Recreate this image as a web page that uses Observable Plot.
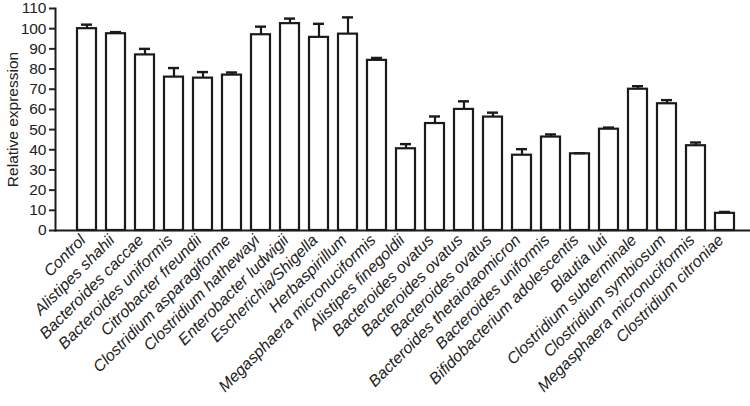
<!DOCTYPE html>
<html>
<head>
<meta charset="utf-8">
<script src="https://cdn.jsdelivr.net/npm/d3@7"></script>
<script src="https://cdn.jsdelivr.net/npm/@observablehq/plot@0.6"></script>
<style>
  html, body { margin: 0; padding: 0; background: #fff; }
  #chart { width: 750px; height: 406px; }
</style>
</head>
<body>
<div id="chart"></div>
<script>
const labels = [
  "Control", "Alistipes shahii", "Bacteroides caccae", "Bacteroides uniformis",
  "Citrobacter freundii", "Clostridium asparagiforme", "Clostridium hathewayi",
  "Enterobacter ludwigii", "Escherichia/Shigella", "Herbaspirillum",
  "Megasphaera micronuciformis", "Alistipes finegoldii", "Bacteroides ovatus",
  "Bacteroides ovatus", "Bacteroides ovatus", "Bacteroides thetaiotaomicron",
  "Bacteroides uniformis", "Bifidobacterium adolescentis", "Blautia luti",
  "Clostridium subterminale", "Clostridium symbiosum",
  "Megasphaera micronuciformis", "Clostridium citroniae"
];
const values = [100, 97.5, 87, 76, 75.5, 77, 97, 102.5, 95.7, 97.3, 84.3,
  40.5, 53, 60, 56.2, 37.3, 46.3, 38, 50.2, 70, 62.8, 42, 8.5];
const errors = [2, 0.8, 3, 4.5, 3, 1.3, 4, 2.5, 6.7, 8.3, 1.2,
  2.3, 3.5, 4, 2.2, 3, 1.3, 0.3, 0.8, 1.5, 1.8, 1.6, 0.7];
const yTicks = [0, 10, 20, 30, 40, 50, 60, 70, 80, 90, 100, 110];

const data = labels.map((name, i) => ({i, name, v: values[i], e: values[i] + errors[i]}));

const chart = Plot.plot({
  width: 750,
  height: 406,
  marginLeft: 55,
  marginRight: 0,
  marginTop: 8,
  marginBottom: 176,
  style: {fontFamily: "'Liberation Sans', Arial, sans-serif", color: "#222", background: "white"},
  x: {domain: d3.range(labels.length), range: [66.3, 744.2], paddingInner: 0.33, paddingOuter: 0},
  y: {domain: [0, 110]},
  marks: [
    Plot.barY(data, {x: "i", y: "v", fill: "white", stroke: "#1a1a1a", strokeWidth: 2.2}),
    Plot.ruleX(data, {x: "i", y1: "v", y2: "e", stroke: "#1a1a1a", strokeWidth: 2.2}),
    Plot.tickY(data, {x: "i", y: "e", stroke: "#1a1a1a", strokeWidth: 2.4, insetLeft: 4, insetRight: 4}),
    Plot.frame({anchor: "left", stroke: "#1a1a1a", strokeWidth: 2}),
    Plot.frame({anchor: "bottom", stroke: "#1a1a1a", strokeWidth: 2}),
    Plot.axisY({ticks: yTicks, tickSize: 6, tickPadding: 3, fontSize: 15.5, strokeWidth: 2,
      label: "Relative expression", labelAnchor: "center", labelArrow: "none", labelOffset: 49}),
    Plot.axisX({tickRotate: -45, tickSize: 0, tickPadding: 6, fontSize: 16, fontStyle: "italic",
      dx: -4, dy: 1, tickFormat: (d) => labels[d], label: null})
  ]
});
document.getElementById("chart").appendChild(chart);
</script>
</body>
</html>
